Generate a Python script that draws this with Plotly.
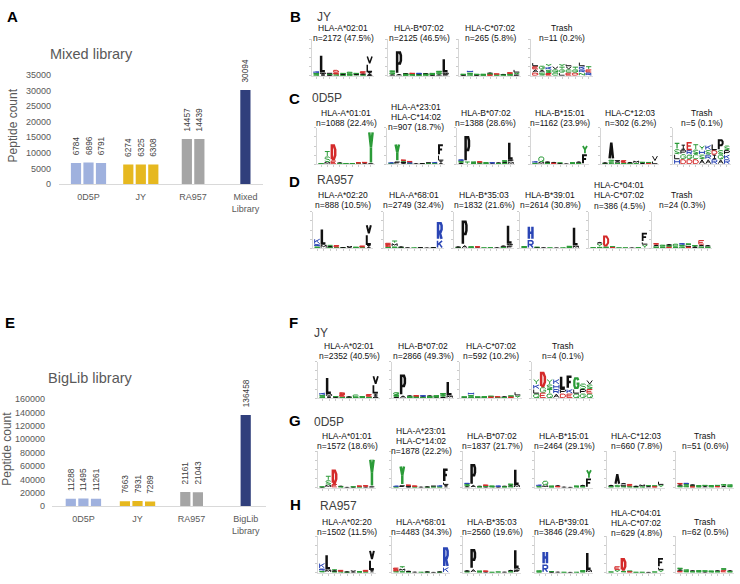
import plotly.graph_objects as go
from collections import defaultdict

W, H = 740, 584
FONT = "Liberation Sans, Arial, sans-serif"

# ---------------- bar chart data ----------------
groups_A = ["0D5P", "JY", "RA957", "Mixed<br>Library"]
counts_A = [[6784, 6896, 6791], [6274, 6325, 6308], [14457, 14439], [30094]]
yticks_A = [0, 5000, 10000, 15000, 20000, 25000, 30000, 35000]

groups_E = ["0D5P", "JY", "RA957", "BigLib<br>Library"]
counts_E = [[11288, 11495, 11261], [7663, 7931, 7289], [21161, 21043], [136458]]
yticks_E = [0, 20000, 40000, 60000, 80000, 100000, 120000, 140000, 160000]

bar_colors = ["#9FB1DE", "#E6B81F", "#A5A5A5", "#303F7C"]

# ---------------- sequence logo data (letter+height in bits, bottom->top, '|' separates positions) ----------------
B_titles = [["HLA-A*02:01", "n=2172 (47.5%)"], ["HLA-B*07:02", "n=2125 (46.5%)"],
            ["HLA-C*07:02", "n=265 (5.8%)"], ["Trash", "n=11 (0.2%)"]]
B_seqs = [
    "G.15 S.15 K.2|I.15 M.2 L2.0|A.1 S.1 V.1|G.15 E.2 D.3|S.1 A.1 G.1|G.1 S.15 C.2|T.1 A.1 S.1|S.15 A.1 E.25|A.1 I.3 L.9 V.9",
    "A.15 G.2 S.25|A.2 P2.5|S.1 G.1 A.1|G.1 S.1 E.1|S.1 A.1 R.1|G.1 S.1 A.1|A.1 S.1 G.1|A.15 S.25 G.15|F.15 M.2 L1.6",
    "A.1 S.1|G.15 S.2 H.25|A.1 S.1|S.1 G.1|E.1 S.15 A.1|S.15 D.1|G.1 A.1|G.1 S.15 E.1|F.1 Y.25 L.35",
    "D.35 A.35 E.35 L.4|S.35 A.35 G.4|E.3 S.35 K.35 Y.3|C.35 Q.35 V.35|L.35 G.35 T.3 Y.3|E.35 C.35 V.35 L.25|D.35 G.35 T.3|N.35 R.35 K.35 L.45|R.35 E.35 T.35",
]

C_titles = [["HLA-A*01:01", "n=1088 (22.4%)"], ["HLA-A*23:01", "HLA-C*14:02", "n=907 (18.7%)"],
            ["HLA-B*07:02", "n=1388 (28.6%)"], ["HLA-B*15:01", "n=1162 (23.9%)"],
            ["HLA-C*12:03", "n=302 (6.2%)"], ["Trash", "n=5 (0.1%)"]]
C_seqs = [
    "A.05 G.05|M.25 S.6 T.6|E.4 D1.8|G.1 A.1|A.05 S.05|A.05 G.05|S.1 E.1|A.1 E.15|F.05 Y3.6",
    "S.1 K.1|F.3 Y2.0|A.1 P.15 T.1 E.15|S.1 R.1 E.15|A.1|G.05 A.05|S.1 V.1|S.1 K.15|I.4 L.6 F1.2",
    "A.15 S.25 R.1|T.3 P2.8|S.1 A.1 G.05|A.1 S.1 E.1|G.1 S.1|A.1 R.1|S.1 A.1|G.15 A.1 S.2|M.25 F.25 L2.0",
    "S.15 K.2|M.25 Q.6|S.1 G.1 A.1|E.15 A.1|A.1 S.05|A.05|G.1 S.1|S.15 A.15|F1.1 Y1.0",
    "S.1 A.1|S.3 G.2 A2.0|G.15 A.2 L.15|S.15 E.3|S.1 A.15|G.1 M.3|A.15 S.1|E.1 S.15|L.35 V.6",
    "H.55 L.55 S.55 T.7|D.55 G.55 P.5 I.55|D.55 G.5 R.5 E.9|D.55 C.55 S.5 T.6|A.55 S.5 H.5 Y.5|A.55 R.5 S.5 K.55|R.55 I.5 D.5 L.7|A.55 Q.5 S.5 P1.2|R.55 K.5 P.5 S.5",
]

D_titles = [["HLA-A*02:20", "n=888 (10.5%)"], ["HLA-A*68:01", "n=2749 (32.4%)"],
            ["HLA-B*35:03", "n=1832 (21.6%)"], ["HLA-B*39:01", "n=2614 (30.8%)"],
            ["HLA-C*04:01", "HLA-C*07:02", "n=386 (4.5%)"], ["Trash", "n=24 (0.3%)"]]
D_seqs = [
    "S.2 R.25 K.6|M.4 L1.8|S.15 A.1 T.1|G.1 E.25|S.05 A.05|A.1 V.15|G.05 S.1|S.1 E.2|I.35 L1.2 V1.1",
    "G.15 D.2 E.25|S.2 M.35 T.3|S.1 A.1|A.1|G.05|S.05 A.05|A.05|S.05 A.05|K.9 R2.0",
    "S.1 A.1|A.35 P2.7|S.1 G.1|A.1 E.1|S.05|S.1|A.1|S.15 A.15|F.3 M.2 L2.1",
    "S.1 G.15|R.9 H1.6|A.05 S.1|A.1|S.05|A.05|G.05|S.15 G.1|M.3 L2.1",
    "S.1|S.15 Y.35 A.2|S.2 D1.2|E.1 S.1|S.05|S.05|A.05|S.1|Y.4 L.3 F1.0",
    "S.2 A.2 E.15|S.2 G.2|E.15 S.2 A.1|S.2 C.3|G.2 S.2 R.15|E.15 L.2 S.2|A.2 S.15|G.2 A.2 E.5|S.2 A.15",
]

F_titles = [["HLA-A*02:01", "n=2352 (40.5%)"], ["HLA-B*07:02", "n=2866 (49.3%)"],
            ["HLA-C*07:02", "n=592 (10.2%)"], ["Trash", "n=4 (0.1%)"]]
F_seqs = [
    "G.15 S.2 K.25|I.2 M.25 L1.9|A.1 S.1|G.15 E.3 D.2|S.1 A.1|G.1 C.3|T.1 S.1|S.15 E.3|A.2 I.3 L1.0 V1.0",
    "A.15 S.2 G.3|A.3 P2.3|S.1 G.1 A.1|G.1 S.1 E.1|S.1 A.1 R.1|G.1 S.1 A.1|A.1 S.1 G.1|A.15 S.3 G.1|M.3 L1.6",
    "A.1 S.05|G.15 S.2 H.3|A.1 S.05|S.1 G.1|E.15 S.1|S.1 D.1|G.1 A.1|E.15 S.15|Y.3 L.4",
    "Q.5 L.5 K.5 Y.6|E.6 G.6 D1.7|Q.5 T.5 S.5 Y.6|A.5 R.5 H.5 K.6|D.5 P.5 L1.5|E.5 K.5 F1.5|Q.5 L.5 G1.3|G.5 P.5 S.6|Q.5 E.5 S.5 V.5",
]

G_titles = [["HLA-A*01:01", "n=1572 (18.6%)"], ["HLA-A*23:01", "HLA-C*14:02", "n=1878 (22.2%)"],
            ["HLA-B*07:02", "n=1837 (21.7%)"], ["HLA-B*15:01", "n=2464 (29.1%)"],
            ["HLA-C*12:03", "n=660 (7.8%)"], ["Trash", "n=51 (0.6%)"]]
G_seqs = [
    "A.05 G.05|M.3 S.5 T.5|E.4 D1.6|G.1 A.1|A.05|A.05 S.05|S.1 E.1|A.1 E.15|F.1 Y3.1",
    "S.1 K.1|F.25 Y2.2|A.1 P.1 E.1|S.1 E.1|A.1|G.05 A.05|S.1 V.1|S.1 K.15|I.3 L.3 F1.5",
    "A.15 S.25 R.1|A.3 P2.3|S.1 A.1|A.1 S.1 E.1|G.1 S.1|A.1 R.1|S.1 A.1|G.15 A.1 S.2|M.3 L1.8",
    "S.15 K.2|M.25 Q.5|S.1 G.1|E.15 A.1|A.1|A.05|G.1 S.1|S.15 A.15|F1.0 Y1.0",
    "S.15 A.15|S.3 A1.3|G.15 L.2 A.15|S.15 E.25|S.1 A.1|G.1 M.25|A.15 S.1|E.1 S.15|Y.3 L.4",
    "S.2 A.15 E.15|G.2 S.2 R.1|E.1 S.15 A.1|S.15 G.1|A.15 S.15|G.15 S.1|E.15 S.15|A.2 G.2|S.2 G.15",
]

H_titles = [["HLA-A*02:20", "n=1502 (11.5%)"], ["HLA-A*68:01", "n=4483 (34.3%)"],
            ["HLA-B*35:03", "n=2560 (19.6%)"], ["HLA-B*39:01", "n=3846 (29.4%)"],
            ["HLA-C*04:01", "HLA-C*07:02", "n=629 (4.8%)"], ["Trash", "n=62 (0.5%)"]]
H_seqs = [
    "S.2 R.25 K.6|M.35 L1.7|S.15 A.1 T.1|G.1 E.2|S.05 A.05|A.1 V.15|G.05 S.1|S.1 E.2|I.3 L1.1 V1.1",
    "G.15 D.15 E.25|S.15 M.3 T.25|S.1 A.1|A.1|G.05|S.05 A.05|A.05|S.05 A.05|K.6 R2.2",
    "S.15 A.1|A.4 P2.2|S.1 G.1|A.1 E.1|S.05|S.1|A.1|S.15 A.15|F.3 M.2 L2.1",
    "S.1 G.15|R.9 H1.5|A.05 S.1|A.1|S.05|A.05|G.05|S.15 G.1|M.3 L2.0",
    "S.1|Y.3 E.4|S.2 D1.4|E.1 S.1|S.05|S.05|A.05|S.1|Y.3 L.3 F1.0",
    "E.2 A.15 S.2|S.2 G.15|S.15 A.1|S.15 G.1|A.1 S.15|G.1 S.1|S.15 A.1|E.3 S.2|S.15 A.1",
]

logo_positions = [1, 2, 3, 4, 5, 6, 7, 8, 9]
logo_yticks = [0, 1, 2, 3, 4]

# ---------------- styling / layout helpers ----------------
AA_COLOR = {}
for a in "GSTYCQN":
    AA_COLOR[a] = "#2b9b38"
for a in "KRH":
    AA_COLOR[a] = "#2a45b5"
for a in "DE":
    AA_COLOR[a] = "#d42a2a"
for a in "AVLIPWFM":
    AA_COLOR[a] = "#111111"

O_RING = [(0.2, 0), (0.8, 0), (1, 0.25), (1, 0.75), (0.8, 1), (0.2, 1), (0, 0.75), (0, 0.25), (0.2, 0)]
P_BODY = [(0, 0), (0, 1), (0.75, 1), (1, 0.85), (1, 0.6), (0.75, 0.45), (0, 0.45)]
GLYPHS = {
    "L": [[(0, 1), (0, 0), (1, 0)]],
    "V": [[(0, 1), (0.5, 0), (1, 1)]],
    "P": [P_BODY],
    "Y": [[(0, 1), (0.5, 0.5), (1, 1)], [(0.5, 0.5), (0.5, 0)]],
    "R": [P_BODY, [(0.45, 0.45), (1, 0)]],
    "H": [[(0, 0), (0, 1)], [(1, 0), (1, 1)], [(0, 0.5), (1, 0.5)]],
    "D": [[(0, 0), (0, 1), (0.6, 1), (1, 0.7), (1, 0.3), (0.6, 0), (0, 0)]],
    "E": [[(1, 1), (0, 1), (0, 0), (1, 0)], [(0, 0.5), (0.8, 0.5)]],
    "F": [[(1, 1), (0, 1), (0, 0)], [(0, 0.52), (0.8, 0.52)]],
    "T": [[(0, 1), (1, 1)], [(0.5, 1), (0.5, 0)]],
    "S": [[(1, 0.85), (0.8, 1), (0.2, 1), (0, 0.8), (0.1, 0.6), (0.9, 0.4), (1, 0.2), (0.8, 0), (0.2, 0), (0, 0.15)]],
    "K": [[(0, 0), (0, 1)], [(1, 1), (0, 0.4)], [(0.35, 0.62), (1, 0)]],
    "A": [[(0, 0), (0.5, 1), (1, 0)], [(0.25, 0.45), (0.75, 0.45)]],
    "G": [[(1, 0.8), (0.8, 1), (0.2, 1), (0, 0.75), (0, 0.25), (0.2, 0), (0.8, 0), (1, 0.2), (1, 0.45), (0.55, 0.45)]],
    "Q": [O_RING, [(0.6, 0.3), (1, 0)]],
    "C": [[(1, 0.8), (0.8, 1), (0.2, 1), (0, 0.75), (0, 0.25), (0.2, 0), (0.8, 0), (1, 0.2)]],
    "I": [[(0.5, 0), (0.5, 1)], [(0.15, 1), (0.85, 1)], [(0.15, 0), (0.85, 0)]],
    "M": [[(0, 0), (0, 1), (0.5, 0.4), (1, 1), (1, 0)]],
    "N": [[(0, 0), (0, 1), (1, 0), (1, 1)]],
    "W": [[(0, 1), (0.25, 0), (0.5, 0.6), (0.75, 0), (1, 1)]],
}


def fx(px):
    return px / W


def fy(py):
    return 1 - py / H


rows = [
    dict(letter="B", label="JY", seqs=B_seqs, titles=B_titles, lefts=[312, 388, 459, 531], width=62,
         base=72, letter_xy=(288, 12), label_xy=(315, 12), off2=38.7, off3=38.7),
    dict(letter="C", label="0D5P", seqs=C_seqs, titles=C_titles, lefts=[317, 387, 457, 531, 601, 673], width=58,
         base=162, letter_xy=(287, 95), label_xy=(310, 95), off2=41.7, off3=38.0),
    dict(letter="D", label="RA957", seqs=D_seqs, titles=D_titles, lefts=[313, 384, 454, 520, 589, 652], width=60,
         base=247.5, letter_xy=(287, 180), label_xy=(315, 178.5), off2=44.0, off3=43.5),
    dict(letter="F", label="JY", seqs=F_seqs, titles=F_titles, lefts=[318, 392, 460, 532], width=62,
         base=400, letter_xy=(287, 323), label_xy=(311.5, 333.5), off2=42.7, off3=42.7),
    dict(letter="G", label="0D5P", seqs=G_seqs, titles=G_titles, lefts=[318, 392, 463, 535, 607, 676], width=58,
         base=491, letter_xy=(287, 423), label_xy=(311.5, 424), off2=42.0, off3=37.4),
    dict(letter="H", label="RA957", seqs=H_seqs, titles=H_titles, lefts=[318, 392, 463, 535, 607, 676], width=58,
         base=577.5, letter_xy=(288, 508.5), label_xy=(318, 509.5), off2=41.6, off3=40.6),
]
LOGO_H = 37
XR = [0.35, 9.65]
YR = [0, 4]

fig = go.Figure()
annotations = []
layout_axes = {}


# ---------------- bar charts ----------------
def add_bars(counts, xax, yax, xdom_px, centers_px, pitch_px, barw_px):
    c0 = centers_px[0]
    unit = (centers_px[1] - centers_px[0])
    for gi, vals in enumerate(counts):
        n = len(vals)
        pitch = pitch_px / unit
        xs = [gi + (bi - (n - 1) / 2) * pitch for bi in range(n)]
        fig.add_trace(go.Bar(
            x=xs, y=vals, width=barw_px / unit, marker=dict(color=bar_colors[gi], line=dict(width=0)),
            text=["\u00a0\u00a0" + str(v) for v in vals], textposition="outside", textangle=-90,
            constraintext="none", cliponaxis=False,
            textfont=dict(size=8.3, color="#404040", family=FONT),
            xaxis=xax, yaxis=yax, showlegend=False, hoverinfo="skip"))
    return [(xdom_px[0] - c0) / unit, (xdom_px[1] - c0) / unit]


xrA = add_bars(counts_A, "x", "y", (59, 262.7), [88.5, 140.8], 12.5, 10.2)
xrE = add_bars(counts_E, "x2", "y2", (52, 265.7), [83.4, 137.5], 12.6, 10.2)

common_bar_x = dict(showline=True, linecolor="#d9d9d9", linewidth=1, ticks="", showgrid=False, zeroline=False,
                    tickfont=dict(size=9, color="#595959", family=FONT), ticklabelstandoff=4, fixedrange=True)
common_bar_y = dict(showline=False, showgrid=False, zeroline=False, ticks="",
                    tickfont=dict(size=9, color="#595959", family=FONT), fixedrange=True)

layout_axes["xaxis"] = dict(common_bar_x, domain=[fx(59), fx(262.7)], range=xrA, tickvals=[0, 1, 2, 3],
                            ticktext=groups_A, anchor="y")
layout_axes["yaxis"] = dict(common_bar_y, domain=[fy(182.3), fy(71)], range=[0, 35000], tickvals=yticks_A,
                            ticktext=[str(v) for v in yticks_A], anchor="x", ticklabelstandoff=7)
layout_axes["xaxis2"] = dict(common_bar_x, domain=[fx(52), fx(265.7)], range=xrE, tickvals=[0, 1, 2, 3],
                             ticktext=groups_E, anchor="y2")
layout_axes["yaxis2"] = dict(common_bar_y, domain=[fy(510), fy(401)], range=[0, 160000], tickvals=yticks_E,
                             ticktext=[str(v) for v in yticks_E], anchor="x2", ticklabelstandoff=6)


def ann(text, xpx, ypx, size, color="#000", xanchor="center", yanchor="middle", angle=0, bold=False):
    annotations.append(dict(text=("<b>%s</b>" % text) if bold else text, x=fx(xpx), y=fy(ypx),
                            xref="paper", yref="paper", xanchor=xanchor, yanchor=yanchor, showarrow=False,
                            textangle=angle, font=dict(size=size, color=color, family=FONT)))


ann("A", 5, 12, 15, "#000", xanchor="left", bold=True)
ann("E", 3, 323, 15, "#000", xanchor="left", bold=True)
ann("Mixed library", 91, 50, 14.5, "#595959")
ann("BigLib library", 90, 380, 14.5, "#595959")
ann("Peptide count", 12.5, 123, 12, "#595959", angle=-90)
ann("Peptide count", 7.5, 452, 12, "#595959", angle=-90)

# ---------------- sequence logos ----------------
axis_i = 3
for row in rows:
    lx, ly = row["letter_xy"]
    ann(row["letter"], lx, ly, 15, "#000", xanchor="left", bold=True)
    tx, ty = row["label_xy"]
    ann(row["label"], tx, ty, 12, "#404040", xanchor="left")
    base = row["base"]
    top = base - LOGO_H
    wpx = row["width"]
    pxx = wpx / (XR[1] - XR[0])
    pxy = LOGO_H / (YR[1] - YR[0])
    for li, (left, seq, title) in enumerate(zip(row["lefts"], row["seqs"], row["titles"])):
        xa, ya = "x%d" % axis_i, "y%d" % axis_i
        layout_axes["xaxis%d" % axis_i] = dict(
            domain=[fx(left), fx(left + wpx)], range=XR, anchor=ya, showline=True, linecolor="#dedede",
            linewidth=1, ticks="outside", ticklen=2, tickwidth=0.7, tickcolor="#b5b5b5",
            tickvals=logo_positions, showticklabels=False, showgrid=False, zeroline=False, fixedrange=True)
        layout_axes["yaxis%d" % axis_i] = dict(
            domain=[fy(base), fy(top)], range=YR, anchor=xa, showline=True, linecolor="#d6d6d6",
            linewidth=1, ticks="outside", ticklen=2, tickwidth=0.7, tickcolor="#b5b5b5",
            tickvals=logo_yticks, showticklabels=False, showgrid=False, zeroline=False, fixedrange=True)
        segs = defaultdict(lambda: ([], []))
        for p, stack in zip(logo_positions, seq.split("|")):
            y0 = 0.0
            for tok in stack.split():
                letter, h = tok[0], float(tok[1:])
                lw = min(2.4, max(0.9, h * pxy * 0.19))
                lw = round(lw * 4) / 4
                ix = (lw / 2) / pxx
                iy = min((lw / 2) / pxy, h * 0.3)
                xl, xr_ = p - 0.47 + ix, p + 0.47 - ix
                yb, yt = y0 + iy, y0 + h - iy
                key = (AA_COLOR[letter], lw)
                xs, ys = segs[key]
                for stroke in GLYPHS[letter]:
                    for (u, v) in stroke:
                        xs.append(xl + (xr_ - xl) * u)
                        ys.append(yb + (yt - yb) * v)
                    xs.append(None)
                    ys.append(None)
                y0 += h
        for (col, lw), (xs, ys) in segs.items():
            fig.add_trace(go.Scatter(x=xs, y=ys, mode="lines", line=dict(color=col, width=lw),
                                     xaxis=xa, yaxis=ya, showlegend=False, hoverinfo="skip",
                                     cliponaxis=False))
        cx = left + wpx / 2
        nlines = len(title)
        off = row["off3"] if nlines == 3 else row["off2"]
        for k, line in enumerate(reversed(title)):
            ann(line, cx, base - off - k * 10.2, 8.5, "#111")
        axis_i += 1

fig.update_layout(
    width=W, height=H, autosize=False, margin=dict(l=0, r=0, t=0, b=0),
    paper_bgcolor="white", plot_bgcolor="white", showlegend=False, barmode="overlay",
    font=dict(family=FONT), annotations=annotations, **layout_axes)

fig.write_html("out.html", include_plotlyjs=True, config={"displayModeBar": False, "staticPlot": True},
               post_script="document.body.style.margin='0';")
